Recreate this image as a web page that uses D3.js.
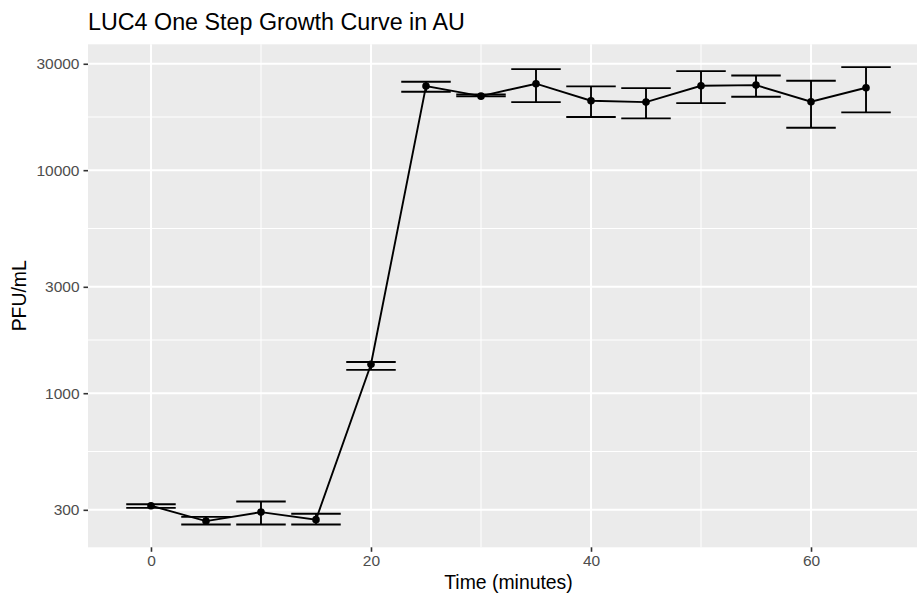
<!DOCTYPE html>
<html>
<head>
<meta charset="utf-8">
<script src="https://cdn.jsdelivr.net/npm/d3@7"></script>
<style>
  html, body { margin: 0; padding: 0; background: #fff; }
  svg { display: block; font-family: "Liberation Sans", Arial, Helvetica, sans-serif; }
</style>
</head>
<body>
<svg id="chart" width="917" height="599"></svg>
<script>
// ---- data ----
const times = [0, 5, 10, 15, 20, 25, 30, 35, 40, 45, 50, 55, 60, 65];
const pfuMean = [313, 267, 293, 271, 1348, 23820, 21480, 24420, 20490, 20200, 23920, 24070, 20280, 23430];
const pfuUpper = [318, 279, 327, 288, 1380, 24930, 21860, 28380, 23750, 23340, 27800, 26600, 25180, 28970];
const pfuLower = [306, 258, 258, 258, 1272, 22480, 21420, 20200, 17310, 17080, 19990, 21350, 15510, 18160];
const xTicks = [0, 20, 40, 60];
const xMinor = [-10, 10, 30, 50, 70];
const yTicks = [300, 1000, 3000, 10000, 30000];
const yTickLabels = ["300", "1000", "3000", "10000", "30000"];
const titleText = "LUC4 One Step Growth Curve in AU";
const xTitle = "Time (minutes)";
const yTitle = "PFU/mL";

// ---- layout ----
const panel = { left: 88, right: 929, top: 44.3, bottom: 547.3 };
const errHalfWidth = 2.25;

const svg = d3.select("#chart");

// x scale: data range incl. error bar width, expanded 5%
const xMinD = d3.min(times) - errHalfWidth, xMaxD = d3.max(times) + errHalfWidth;
const xPad = (xMaxD - xMinD) * 0.05;
const x = d3.scaleLinear().domain([xMinD - xPad, xMaxD + xPad]).range([panel.left, panel.right]);

// y scale: log10, expanded 5% in log space
const lmin = Math.log10(d3.min(pfuLower)), lmax = Math.log10(d3.max(pfuUpper));
const lpad = (lmax - lmin) * 0.05;
const y = d3.scaleLog().domain([Math.pow(10, lmin - lpad), Math.pow(10, lmax + lpad)]).range([panel.bottom, panel.top]);

// minor y breaks: midpoints in log space
const yMinor = [];
for (let i = 0; i < yTicks.length - 1; i++) {
  yMinor.push(Math.pow(10, (Math.log10(yTicks[i]) + Math.log10(yTicks[i + 1])) / 2));
}

// panel background
svg.append("rect")
  .attr("x", panel.left).attr("y", panel.top)
  .attr("width", panel.right - panel.left).attr("height", panel.bottom - panel.top)
  .attr("fill", "#EBEBEB");

const grid = svg.append("g");
// minor grid
grid.selectAll(".ymin").data(yMinor).enter().append("line")
  .attr("x1", panel.left).attr("x2", panel.right)
  .attr("y1", d => y(d)).attr("y2", d => y(d))
  .attr("stroke", "#fff").attr("stroke-width", 1);
grid.selectAll(".xmin").data(xMinor.filter(d => x(d) >= panel.left && x(d) <= panel.right)).enter().append("line")
  .attr("y1", panel.top).attr("y2", panel.bottom)
  .attr("x1", d => x(d)).attr("x2", d => x(d))
  .attr("stroke", "#fff").attr("stroke-width", 1);
// major grid
grid.selectAll(".ymaj").data(yTicks).enter().append("line")
  .attr("x1", panel.left).attr("x2", panel.right)
  .attr("y1", d => y(d)).attr("y2", d => y(d))
  .attr("stroke", "#fff").attr("stroke-width", 2);
grid.selectAll(".xmaj").data(xTicks).enter().append("line")
  .attr("y1", panel.top).attr("y2", panel.bottom)
  .attr("x1", d => x(d)).attr("x2", d => x(d))
  .attr("stroke", "#fff").attr("stroke-width", 2);

// axes
const xAxis = d3.axisBottom(x).tickValues(xTicks).tickSize(4.5).tickPadding(3);
const gx = svg.append("g").attr("transform", `translate(0,${panel.bottom})`).call(xAxis);
gx.select(".domain").remove();
gx.selectAll(".tick line").attr("stroke", "#333").attr("stroke-width", 1.6);
gx.selectAll(".tick text").attr("fill", "#4D4D4D").attr("font-size", "15.5px");

const yAxis = d3.axisLeft(y).tickValues(yTicks).tickFormat((d, i) => yTickLabels[i]).tickSize(4.5).tickPadding(4);
const gy = svg.append("g").attr("transform", `translate(${panel.left},0)`).call(yAxis);
gy.select(".domain").remove();
gy.selectAll(".tick line").attr("stroke", "#333").attr("stroke-width", 1.6);
gy.selectAll(".tick text").attr("fill", "#4D4D4D").attr("font-size", "15.5px");

// data
const data = times.map((t, i) => ({ t, m: pfuMean[i], lo: pfuLower[i], hi: pfuUpper[i] }));

const marks = svg.append("g");
// error bars
const eb = marks.selectAll(".eb").data(data).enter().append("g").attr("stroke", "#000").attr("stroke-width", 1.9).attr("fill", "none");
eb.append("line").attr("x1", d => x(d.t)).attr("x2", d => x(d.t)).attr("y1", d => y(d.lo)).attr("y2", d => y(d.hi));
eb.append("line").attr("x1", d => x(d.t - errHalfWidth)).attr("x2", d => x(d.t + errHalfWidth)).attr("y1", d => y(d.lo)).attr("y2", d => y(d.lo));
eb.append("line").attr("x1", d => x(d.t - errHalfWidth)).attr("x2", d => x(d.t + errHalfWidth)).attr("y1", d => y(d.hi)).attr("y2", d => y(d.hi));

// line
marks.append("path").datum(data)
  .attr("d", d3.line().x(d => x(d.t)).y(d => y(d.m)))
  .attr("fill", "none").attr("stroke", "#000").attr("stroke-width", 1.9);

// points
marks.selectAll(".pt").data(data).enter().append("circle")
  .attr("cx", d => x(d.t)).attr("cy", d => y(d.m)).attr("r", 3.8).attr("fill", "#000");

// titles
svg.append("text").attr("x", panel.left).attr("y", 30)
  .attr("font-size", "23.3px").attr("fill", "#000").text(titleText);
svg.append("text").attr("x", (panel.left + panel.right) / 2).attr("y", 588.5)
  .attr("text-anchor", "middle").attr("font-size", "19.4px").attr("fill", "#000").text(xTitle);
svg.append("text").attr("transform", `translate(26,${(panel.top + panel.bottom) / 2}) rotate(-90)`)
  .attr("text-anchor", "middle").attr("font-size", "19.4px").attr("fill", "#000").text(yTitle);
</script>
</body>
</html>
